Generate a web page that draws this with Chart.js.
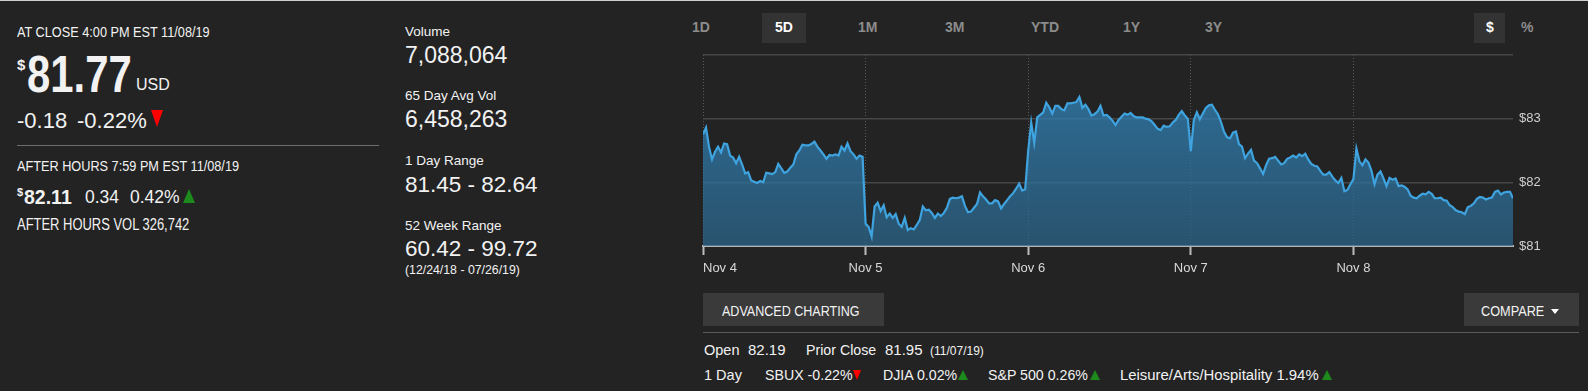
<!doctype html>
<html>
  <head>
    <title>SBUX 5D</title>
    <script src="https://cdn.jsdelivr.net/npm/chart.js@4.4.1/dist/chart.umd.min.js"></script>
    <style>
        * { margin: 0; padding: 0; box-sizing: border-box; }
        body { width: 1588px; height: 391px; background: #232323; color: #f2f2f2; font-family: 'Liberation Sans', Arial, sans-serif; position: relative; overflow: hidden; }
        .t { position: absolute; line-height: 1; white-space: nowrap; }
        .nar { transform: scaleX(0.82); transform-origin: 0 0; }
        .b { font-weight: bold; }
        .tab { position: absolute; top: 20px; font-size: 14px; font-weight: bold; color: #8c8c8c; line-height: 1; }
        .tabbox { position: absolute; top: 13px; height: 30px; background: #333333; }
        .down { position: absolute; width: 0; height: 0; border-left: 6px solid transparent; border-right: 6px solid transparent; border-top: 16px solid #ff0000; }
        .up { position: absolute; width: 0; height: 0; border-left: 6px solid transparent; border-right: 6px solid transparent; border-bottom: 14px solid #1c8a1c; }
        .btn { position: absolute; top: 293px; height: 33px; background: #3a3a3a; }
        #topline { position: absolute; left: 0; top: 0; width: 1588px; height: 1px; background: #cfcfcf; }
        #chartBox { position: absolute; left: 700px; top: 50px; width: 880px; height: 235px; }
    </style>
  </head>
  <body>
    <div id="topline"></div>

    <!-- left column -->
    <div class="t nar" style="left:17px;top:24px;font-size:15.5px">AT CLOSE 4:00 PM EST 11/08/19</div>
    <div class="t b" style="left:17px;top:57px;font-size:15px">$</div>
    <div class="t nar b" style="left:27px;top:48.5px;font-size:51px">81.77</div>
    <div class="t" style="left:136px;top:76.5px;font-size:16px">USD</div>
    <div class="t" style="left:17px;top:110px;font-size:22px">-0.18</div>
    <div class="t" style="left:77px;top:110px;font-size:22px">-0.22%</div>
    <div class="down" style="left:151px;top:110px;border-left-width:6.5px;border-right-width:6.5px;border-top-width:17px"></div>
    <div style="position:absolute;left:17px;top:145px;width:362px;height:1px;background:#6e6e6e"></div>
    <div class="t nar" style="left:17px;top:158px;font-size:15.5px">AFTER HOURS 7:59 PM EST 11/08/19</div>
    <div class="t b" style="left:17px;top:187px;font-size:11px">$</div>
    <div class="t b" style="left:24px;top:188px;font-size:19.5px">82.11</div>
    <div class="t" style="left:85px;top:189px;font-size:17.5px">0.34</div>
    <div class="t" style="left:130px;top:189px;font-size:17.5px">0.42%</div>
    <div class="up" style="left:183px;top:189px;border-left-width:6.5px;border-right-width:6.5px"></div>
    <div class="t nar" style="left:17px;top:217px;font-size:15.8px">AFTER HOURS VOL 326,742</div>

    <!-- middle column -->
    <div class="t" style="left:405px;top:24.5px;font-size:13.5px">Volume</div>
    <div class="t" style="left:405px;top:44px;font-size:23px">7,088,064</div>
    <div class="t" style="left:405px;top:88.5px;font-size:13.5px">65 Day Avg Vol</div>
    <div class="t" style="left:405px;top:108px;font-size:23px">6,458,263</div>
    <div class="t" style="left:405px;top:154px;font-size:13.5px">1 Day Range</div>
    <div class="t" style="left:405px;top:173.5px;font-size:22.5px">81.45 - 82.64</div>
    <div class="t" style="left:405px;top:218.5px;font-size:13.5px">52 Week Range</div>
    <div class="t" style="left:405px;top:237.5px;font-size:22.5px">60.42 - 99.72</div>
    <div class="t" style="left:405px;top:263.5px;font-size:12.3px">(12/24/18 - 07/26/19)</div>

    <!-- range tabs -->
    <div class="tabbox" style="left:762px;width:44px"></div>
    <div class="tabbox" style="left:1474px;width:31px"></div>
    <div class="tab" style="left:692px">1D</div>
    <div class="tab" style="left:775px;color:#ffffff">5D</div>
    <div class="tab" style="left:858px">1M</div>
    <div class="tab" style="left:945px">3M</div>
    <div class="tab" style="left:1031px">YTD</div>
    <div class="tab" style="left:1123px">1Y</div>
    <div class="tab" style="left:1205px">3Y</div>
    <div class="tab" style="left:1486px;color:#ffffff">$</div>
    <div class="tab" style="left:1521px">%</div>

    <div id="chartBox"><canvas id="priceChart"></canvas></div>

    <!-- buttons and quote strip -->
    <div class="btn" style="left:703px;width:181px"></div>
    <div class="t nar" style="left:722px;top:302.5px;font-size:15.3px">ADVANCED CHARTING</div>
    <div class="btn" style="left:1464px;width:115px"></div>
    <div class="t nar" style="left:1481px;top:302.5px;font-size:15.5px">COMPARE</div>
    <div class="down" style="left:1551px;top:309px;border-left-width:4.5px;border-right-width:4.5px;border-top:5px solid #ffffff"></div>
    <div style="position:absolute;left:703px;top:332px;width:876px;height:1px;background:#5c5c5c"></div>

    <div class="t" style="left:704px;top:342.5px;font-size:14.5px">Open</div>
    <div class="t" style="left:748px;top:342px;font-size:15px">82.19</div>
    <div class="t" style="left:806px;top:342.5px;font-size:14.2px">Prior Close</div>
    <div class="t" style="left:885px;top:342px;font-size:15px">81.95</div>
    <div class="t" style="left:930px;top:345px;font-size:12px">(11/07/19)</div>

    <div class="t" style="left:704px;top:368px;font-size:14.5px">1 Day</div>
    <div class="t" style="left:765px;top:368px;font-size:14.2px">SBUX -0.22%</div>
    <div class="down" style="left:853px;top:370px;border-left-width:4px;border-right-width:4px;border-top-width:10px"></div>
    <div class="t" style="left:883px;top:368px;font-size:14.2px">DJIA 0.02%</div>
    <div class="up" style="left:958px;top:370px;border-left-width:5px;border-right-width:5px;border-bottom-width:10px"></div>
    <div class="t" style="left:988px;top:368px;font-size:14.2px">S&amp;P 500 0.26%</div>
    <div class="up" style="left:1090px;top:370px;border-left-width:5px;border-right-width:5px;border-bottom-width:10px"></div>
    <div class="t" style="left:1120px;top:368px;font-size:14.9px">Leisure/Arts/Hospitality 1.94%</div>
    <div class="up" style="left:1322px;top:370px;border-left-width:5px;border-right-width:5px;border-bottom-width:10px"></div>

    <script>
    // 5-day price, sampled evenly through each session
    const dayLabels = ['Nov 4', 'Nov 5', 'Nov 6', 'Nov 7', 'Nov 8'];
    const nov4 = [82.75, 82.86, 82.56, 82.36, 82.48, 82.56, 82.47, 82.61, 82.60, 82.42,
                  82.39, 82.30, 82.40, 82.28, 82.14, 82.16, 82.03, 82.01, 81.99, 82.02,
                  82.00, 82.15, 82.14, 82.13, 82.16, 82.29, 82.22, 82.15, 82.17, 82.23,
                  82.28, 82.44, 82.50, 82.59, 82.58, 82.58, 82.60, 82.64, 82.56, 82.50,
                  82.44, 82.37, 82.43, 82.42, 82.44, 82.42, 82.56, 82.50, 82.61, 82.49,
                  82.44, 82.37, 82.42, 82.40];
    const nov5 = [81.35, 81.30, 81.15, 81.62, 81.68, 81.55, 81.64, 81.45, 81.51, 81.44,
                  81.50, 81.35, 81.30, 81.44, 81.25, 81.28, 81.26, 81.33, 81.41, 81.62,
                  81.56, 81.57, 81.52, 81.44, 81.51, 81.47, 81.52, 81.60, 81.74, 81.76,
                  81.75, 81.76, 81.78, 81.63, 81.53, 81.54, 81.60, 81.66, 81.84, 81.78,
                  81.73, 81.67, 81.67, 81.72, 81.70, 81.59, 81.66, 81.72, 81.78, 81.83,
                  81.90, 81.98, 81.87, 81.89];
    const nov6 = [82.50, 82.94, 82.62, 83.02, 83.06, 83.10, 83.25, 83.18, 83.08, 83.20,
                  83.20, 83.15, 83.13, 83.24, 83.24, 83.25, 83.26, 83.34, 83.17, 83.22,
                  83.15, 83.05, 83.07, 83.11, 83.20, 83.05, 83.06, 83.02, 82.97, 82.90,
                  82.98, 83.03, 83.08, 83.06, 83.09, 83.04, 83.02, 83.02, 83.02, 83.00,
                  82.99, 82.96, 82.90, 82.84, 82.82, 82.89, 82.87, 82.88, 82.94, 82.98,
                  83.06, 83.12, 83.05, 83.00];
    const nov7 = [82.49, 82.98, 83.10, 82.99, 83.08, 83.17, 83.21, 83.22, 83.14, 83.07,
                  82.95, 82.80, 82.71, 82.69, 82.78, 82.80, 82.60, 82.56, 82.38, 82.45,
                  82.51, 82.34, 82.30, 82.22, 82.13, 82.27, 82.37, 82.38, 82.40, 82.34,
                  82.28, 82.30, 82.37, 82.39, 82.42, 82.39, 82.44, 82.41, 82.45, 82.36,
                  82.29, 82.26, 82.25, 82.18, 82.12, 82.12, 82.16, 82.09, 82.03, 81.99,
                  82.07, 81.86, 81.88, 81.97];
    const nov8 = [82.05, 82.53, 82.33, 82.27, 82.36, 82.31, 82.18, 81.97, 82.12, 82.17,
                  82.06, 81.94, 82.07, 82.04, 82.06, 81.94, 81.95, 81.93, 81.89, 81.79,
                  81.76, 81.75, 81.79, 81.82, 81.81, 81.85, 81.82, 81.75, 81.75, 81.76,
                  81.72, 81.71, 81.64, 81.61, 81.56, 81.54, 81.53, 81.50, 81.61, 81.63,
                  81.67, 81.74, 81.77, 81.76, 81.73, 81.75, 81.76, 81.85, 81.87, 81.81,
                  81.84, 81.85, 81.85, 81.75];
    const sessions = [nov4, nov5, nov6, nov7, nov8];
    const yTicks = [81, 82, 83, 84];

    const points = [];
    sessions.forEach((vals, d) => {
        vals.forEach((v, i) => points.push({ x: d + i / vals.length, y: v }));
    });
    const xMax = points[points.length - 1].x;
    const isDay = c => c.tick && Number.isInteger(c.tick.value);

    // pin the plot area: no extra room for edge labels
    const noPad = s => { s.paddingLeft = 0; s.paddingRight = 0; s.paddingTop = 0; s.paddingBottom = 0; };

    const ctx = document.getElementById('priceChart').getContext('2d');
    const priceChart = new Chart(ctx, {
        type: 'line',
        data: {
            datasets: [{
                data: points,
                borderColor: '#3ea3df',
                borderWidth: 2.2,
                pointRadius: 0,
                tension: 0,
                fill: 'start',
                backgroundColor: c => {
                    const area = c.chart.chartArea;
                    if (!area) return 'rgba(50,120,170,0.75)';
                    const g = c.chart.ctx.createLinearGradient(0, area.top, 0, area.bottom);
                    g.addColorStop(0, 'rgba(52,140,198,0.75)');
                    g.addColorStop(1, 'rgba(44,100,136,0.75)');
                    return g;
                }
            }]
        },
        options: {
            responsive: true,
            maintainAspectRatio: false,
            animation: false,
            layout: { padding: { left: 3, top: 5, right: 0, bottom: 0 } },
            plugins: { legend: { display: false }, tooltip: { enabled: false } },
            scales: {
                x: {
                    type: 'linear',
                    min: 0,
                    max: xMax,
                    afterBuildTicks: s => {
                        s.ticks = dayLabels.map((_, i) => ({ value: i })).concat([{ value: xMax }]);
                    },
                    afterFit: s => { s.height = 39; noPad(s); },
                    grid: {
                        color: c => isDay(c) ? '#5a5a5a' : 'transparent',
                        lineWidth: 1,
                        tickLength: 9,
                        tickWidth: 2,
                        tickColor: c => isDay(c) ? '#bdbdbd' : 'transparent',
                        tickBorderDash: []
                    },
                    border: { color: '#b5b5b5', width: 2, dash: [1, 2] },
                    ticks: {
                        align: 'inner',
                        autoSkip: false,
                        maxRotation: 0,
                        color: '#d9d9d9',
                        padding: 6,
                        font: { family: 'Liberation Sans', size: 13 },
                        callback: v => Number.isInteger(v) ? dayLabels[v] : ''
                    }
                },
                y: {
                    position: 'right',
                    min: 81,
                    max: 84,
                    afterBuildTicks: s => { s.ticks = yTicks.map(v => ({ value: v })); },
                    afterFit: s => { s.width = 67; noPad(s); },
                    grid: {
                        color: c => c.tick && c.tick.value === 81 ? 'transparent' : '#474747',
                        lineWidth: 1.5,
                        drawTicks: false
                    },
                    border: { display: false },
                    ticks: {
                        color: '#cfcfcf',
                        padding: 6,
                        font: { family: 'Liberation Sans', size: 13 },
                        callback: v => v === 84 ? '' : '$' + v
                    }
                }
            }
        }
    });
    </script>
  </body>
</html>
